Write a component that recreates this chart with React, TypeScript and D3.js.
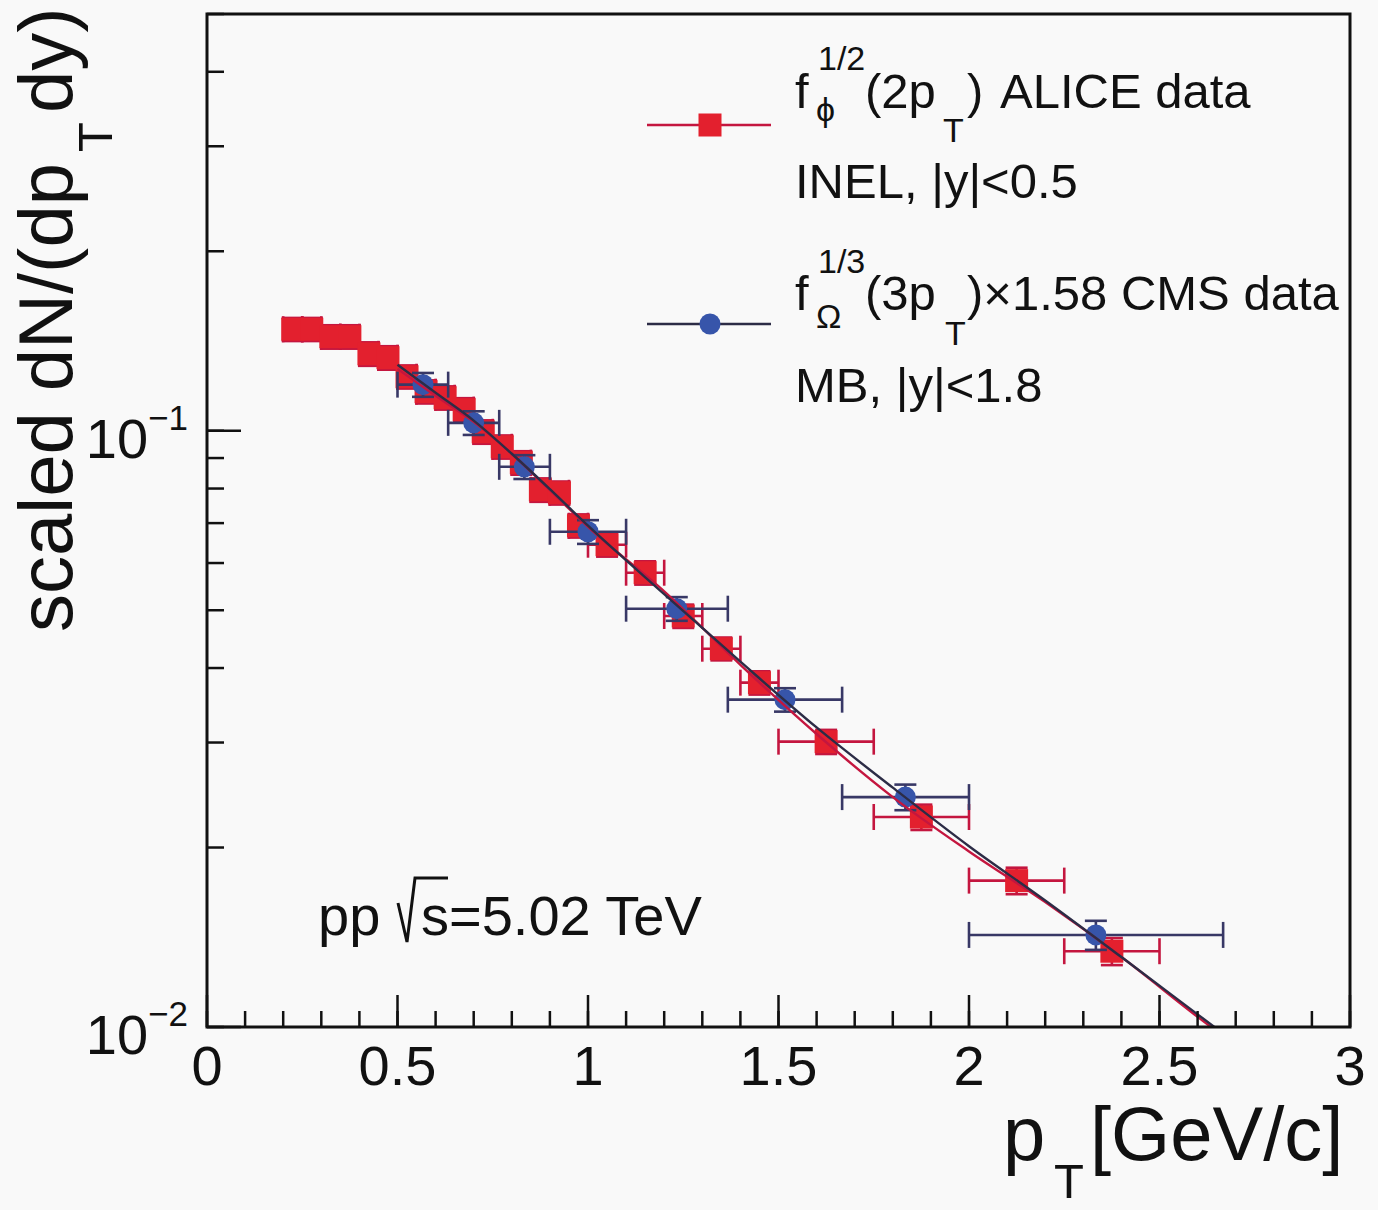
import React from "react";
import * as d3 from "d3";

// ---------------- data ----------------
// ALICE phi, plotted at pT/2 (bin edges and centres in scaled pT)
const aliceBinLo = [0.2, 0.25, 0.3, 0.35, 0.4, 0.45, 0.5, 0.55, 0.6, 0.65, 0.7, 0.75, 0.8, 0.85, 0.9, 0.95, 1.0, 1.1, 1.2, 1.3, 1.4, 1.5, 1.75, 2.0, 2.25];
const aliceBinHi = [0.25, 0.3, 0.35, 0.4, 0.45, 0.5, 0.55, 0.6, 0.65, 0.7, 0.75, 0.8, 0.85, 0.9, 0.95, 1.0, 1.1, 1.2, 1.3, 1.4, 1.5, 1.75, 2.0, 2.25, 2.5];
const alicePt = [0.225, 0.275, 0.325, 0.375, 0.425, 0.475, 0.525, 0.575, 0.625, 0.675, 0.725, 0.775, 0.825, 0.875, 0.925, 0.975, 1.05, 1.15, 1.25, 1.35, 1.45, 1.625, 1.875, 2.125, 2.375];
const aliceVal = [0.148, 0.148, 0.1438, 0.1438, 0.1346, 0.1326, 0.1232, 0.1163, 0.1136, 0.1085, 0.0996, 0.094, 0.0884, 0.0796, 0.0787, 0.0693, 0.0644, 0.0578, 0.0489, 0.0431, 0.0378, 0.0301, 0.0225, 0.0176, 0.0134];
const aliceErr = [0.0066, 0.0066, 0.0065, 0.0065, 0.0061, 0.006, 0.0055, 0.0052, 0.0051, 0.0049, 0.0045, 0.0042, 0.004, 0.0036, 0.0035, 0.0031, 0.0029, 0.0026, 0.0022, 0.0019, 0.0017, 0.0014, 0.0011, 0.0009, 0.0007];

// CMS Omega, plotted at pT/3
const cmsBinLo = [0.5, 0.633, 0.767, 0.9, 1.1, 1.367, 1.667, 2.0];
const cmsBinHi = [0.633, 0.767, 0.9, 1.1, 1.367, 1.667, 2.0, 2.667];
const cmsPt = [0.567, 0.7, 0.833, 1.0, 1.233, 1.517, 1.833, 2.333];
const cmsVal = [0.1195, 0.1031, 0.087, 0.0677, 0.0503, 0.0354, 0.0243, 0.01427];
const cmsErr = [0.0055, 0.0047, 0.004, 0.0031, 0.0023, 0.0016, 0.0012, 0.0008];

// fit curves
const fitPt = [0.5, 0.6, 0.7, 0.8, 0.9, 1.0, 1.2, 1.4, 1.6, 1.8, 2.0, 2.2, 2.4, 2.6, 2.7];
const aliceFit = [0.127, 0.1145, 0.1035, 0.0915, 0.0795, 0.069, 0.0538, 0.0405, 0.031, 0.0243, 0.0197, 0.0162, 0.0131, 0.0104, 0.0093];
const cmsFit = [0.129, 0.1158, 0.104, 0.0915, 0.0798, 0.0693, 0.0532, 0.041, 0.0318, 0.0252, 0.0201, 0.0163, 0.0131, 0.0105, 0.0094];

// axes
const xMajorTicks = [0, 0.5, 1, 1.5, 2, 2.5, 3];
const xMajorLabels = ["0", "0.5", "1", "1.5", "2", "2.5", "3"];
const yDecades = [0.01, 0.1];
const yDecadeExp = ["\u22122", "\u22121"];

const FONT = "'Liberation Sans', Arial, Helvetica, sans-serif";
const RED = "#e3202e";
const RED_LINE = "#c4163f";
const BLUE = "#3755aa";
const BLUE_LINE = "#383866";
const DARK_FIT = "#2c2c46";
const INK = "#111111";

export default function App() {
  const W = 1378;
  const H = 1210;
  const left = 207, right = 1350, top = 14, bottom = 1027;

  const x = d3.scaleLinear().domain([0, 3]).range([left, right]);
  const y = d3.scaleLog().domain([0.01, 0.5]).range([bottom, top]);

  const xMinor = x.ticks(30);
  const yMinor = y.ticks();

  const line = d3
    .line<[number, number]>()
    .x((d) => x(d[0]))
    .y((d) => y(d[1]))
    .curve(d3.curveMonotoneX);

  const aliceFitPath = line(fitPt.map((p, i) => [p, aliceFit[i]] as [number, number])) || "";
  const cmsFitPath = line(fitPt.map((p, i) => [p, cmsFit[i]] as [number, number])) || "";

  const capH = 13;
  const capW = 11;
  const sq = 23;
  const cr = 10.5;

  const errorBars = (
    pts: number[],
    vals: number[],
    errs: number[],
    lo: number[],
    hi: number[],
    color: string,
    key: string
  ) =>
    pts.map((p, i) => {
      const cy = y(vals[i]);
      const cx = x(p);
      const x0 = x(lo[i]);
      const x1 = x(hi[i]);
      const y0 = y(vals[i] - errs[i]);
      const y1 = y(vals[i] + errs[i]);
      return (
        <g key={key + i} stroke={color} strokeWidth={2.6} fill="none">
          <line x1={x0} y1={cy} x2={x1} y2={cy} />
          <line x1={x0} y1={cy - capH} x2={x0} y2={cy + capH} />
          <line x1={x1} y1={cy - capH} x2={x1} y2={cy + capH} />
          <line x1={cx} y1={y0} x2={cx} y2={y1} />
          <line x1={cx - capW} y1={y0} x2={cx + capW} y2={y0} />
          <line x1={cx - capW} y1={y1} x2={cx + capW} y2={y1} />
        </g>
      );
    });

  return (
    <div>
      <style>{"body{margin:0;background:#f9f9f9}"}</style>
      <svg width={W} height={H} viewBox={`0 0 ${W} ${H}`} style={{ display: "block", background: "#f9f9f9" }} fontFamily={FONT}>
        <defs>
          <clipPath id="plotClip">
            <rect x={left} y={top} width={right - left} height={bottom - top} />
          </clipPath>
        </defs>

        {/* ALICE */}
        {errorBars(alicePt, aliceVal, aliceErr, aliceBinLo, aliceBinHi, RED_LINE, "ae")}
        {alicePt.map((p, i) => (
          <rect key={"am" + i} x={x(p) - sq / 2} y={y(aliceVal[i]) - sq / 2} width={sq} height={sq} fill={RED} />
        ))}

        {/* CMS */}
        {errorBars(cmsPt, cmsVal, cmsErr, cmsBinLo, cmsBinHi, BLUE_LINE, "ce")}
        {cmsPt.map((p, i) => (
          <circle key={"cm" + i} cx={x(p)} cy={y(cmsVal[i])} r={cr} fill={BLUE} />
        ))}

        {/* fits */}
        <g clipPath="url(#plotClip)" fill="none" strokeWidth={2.4}>
          <path d={aliceFitPath} stroke={RED_LINE} />
          <path d={cmsFitPath} stroke={DARK_FIT} />
        </g>

        {/* frame */}
        <rect x={left} y={top} width={right - left} height={bottom - top} fill="none" stroke={INK} strokeWidth={3} />

        {/* ticks */}
        <g stroke={INK} strokeWidth={2.5}>
          {xMinor.map((t, i) => (
            <line key={"xm" + i} x1={x(t)} x2={x(t)} y1={bottom} y2={bottom - 16} />
          ))}
          {xMajorTicks.map((t, i) => (
            <line key={"xM" + i} x1={x(t)} x2={x(t)} y1={bottom} y2={bottom - 32} />
          ))}
          {yMinor.map((t, i) => (
            <line key={"ym" + i} x1={left} x2={left + 17} y1={y(t)} y2={y(t)} />
          ))}
          {yDecades.map((t, i) => (
            <line key={"yM" + i} x1={left} x2={left + 34} y1={y(t)} y2={y(t)} />
          ))}
        </g>

        {/* x labels */}
        {xMajorTicks.map((t, i) => (
          <text key={"xl" + i} x={x(t)} y={1085} fontSize={56} textAnchor="middle" fill={INK}>
            {xMajorLabels[i]}
          </text>
        ))}

        {/* y labels */}
        {yDecades.map((t, i) => (
          <text key={"yl" + i} x={188} y={y(t) + 27} fontSize={56} textAnchor="end" fill={INK}>
            10
            <tspan fontSize={35} dy={-28}>
              {yDecadeExp[i]}
            </tspan>
          </text>
        ))}

        {/* x title */}
        <text x={1003} y={1160} fontSize={76} fill={INK}>p</text>
        <text x={1054} y={1198} fontSize={49} fill={INK}>T</text>
        <text x={1090} y={1160} fontSize={76} fill={INK}>[GeV/c]</text>

        {/* y title */}
        <g transform="translate(72,632) rotate(-90)" fill={INK}>
          <text x={0} y={0} fontSize={76}>scaled dN/(dp</text>
          <text x={480} y={40} fontSize={49}>T</text>
          <text x={519} y={0} fontSize={76}>dy)</text>
        </g>

        {/* legend */}
        <line x1={647} x2={771} y1={125} y2={125} stroke={RED_LINE} strokeWidth={2.6} />
        <rect x={710 - sq / 2} y={125 - sq / 2} width={sq} height={sq} fill={RED} />
        <g fill={INK}>
          <text x={795} y={108} fontSize={49}>f</text>
          <text x={818} y={70} fontSize={34}>1/2</text>
          <text x={816} y={121} fontSize={34}>{"\u03D5"}</text>
          <text x={865} y={108} fontSize={49}>(2p</text>
          <text x={943} y={142} fontSize={34}>T</text>
          <text x={967} y={108} fontSize={49}>)</text>
          <text x={1000} y={108} fontSize={49}>ALICE data</text>
          <text x={795} y={198} fontSize={49}>INEL, |y|&lt;0.5</text>
        </g>

        <line x1={647} x2={771} y1={324} y2={324} stroke={DARK_FIT} strokeWidth={2.6} />
        <circle cx={710} cy={324} r={cr} fill={BLUE} />
        <g fill={INK}>
          <text x={795} y={310} fontSize={49}>f</text>
          <text x={818} y={273} fontSize={34}>1/3</text>
          <text x={816} y={328} fontSize={34}>{"\u03A9"}</text>
          <text x={865} y={310} fontSize={49}>(3p</text>
          <text x={945} y={345} fontSize={34}>T</text>
          <text x={967} y={310} fontSize={49}>{")\u00D71.58 CMS data"}</text>
          <text x={795} y={402} fontSize={49}>MB, |y|&lt;1.8</text>
        </g>

        {/* energy label */}
        <text x={318} y={935} fontSize={56} fill={INK}>pp</text>
        <path d="M398,903 L407,942 L415,878 L448,878" fill="none" stroke={INK} strokeWidth={3} />
        <text x={421} y={935} fontSize={56} fill={INK}>s=5.02 TeV</text>
      </svg>
    </div>
  );
}
